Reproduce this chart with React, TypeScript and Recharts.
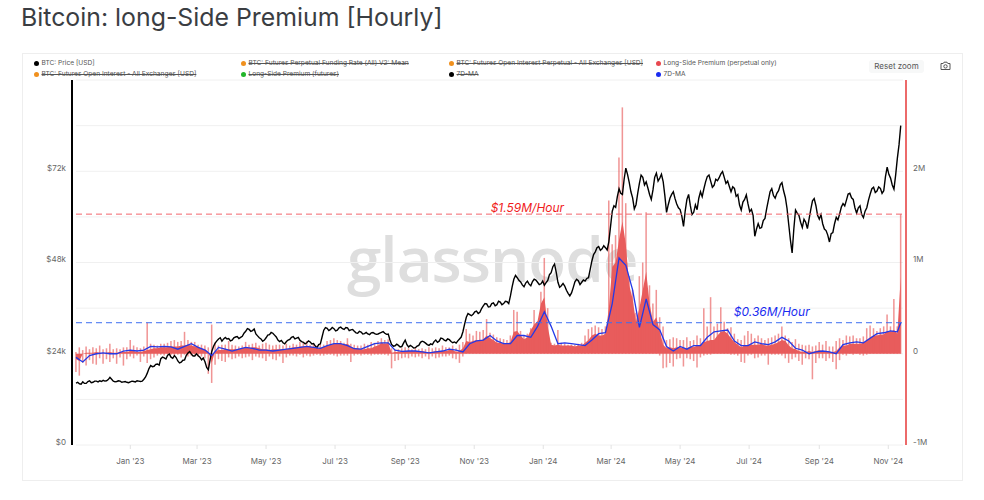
import {
  ComposedChart,
  Bar,
  Area,
  Line,
  XAxis,
  YAxis,
  CartesianGrid,
  ReferenceLine,
  ReferenceDot,
} from 'recharts';

const FONT = 'Inter, "Noto Sans", sans-serif';
const RED = '#e85c5c';
const BLUE = '#2438e6';

// BTC price in $k, one value every 3 days from 14 Nov 2022
const priceValues = [
  16.3, 16.1, 16.6, 16.2, 16.9, 16.5, 16.8, 16.9, 17.0, 16.9,
  17.8, 16.8, 16.7, 16.8, 16.6, 16.5, 16.6, 16.7, 16.9, 16.7,
  17.3, 18.9, 20.9, 20.7, 21.3, 22.7, 22.9, 23.6, 23.1, 23.5,
  22.1, 21.8, 22.4, 24.2, 23.9, 23.4, 23.5, 22.4, 21.9, 19.8,
  24.6, 26.8, 27.9, 27.3, 28.3, 28.0, 27.6, 28.4, 28.0, 28.6,
  29.9, 30.4, 30.1, 29.2, 28.2, 27.3, 28.2, 29.0, 29.4, 28.4,
  27.2, 26.9, 27.2, 27.8, 28.5, 28.1, 27.5, 27.0, 26.9, 27.1,
  26.7, 25.6, 26.6, 30.2, 30.7, 30.4, 30.6, 30.2, 31.0, 30.4,
  30.8, 30.3, 29.9, 29.4, 29.7, 29.3, 29.2, 29.5, 29.3, 29.2,
  29.6, 29.4, 29.2, 26.4, 26.1, 26.2, 25.9, 27.6, 25.8, 25.9,
  25.6, 26.2, 27.3, 26.8, 26.2, 26.4, 27.6, 27.3, 28.0, 27.4,
  27.7, 26.9, 26.8, 27.9, 29.8, 33.6, 34.3, 34.4, 35.2, 34.9,
  36.6, 37.1, 36.4, 37.4, 36.9, 37.6, 37.2, 37.7, 39.2, 43.6,
  44.0, 42.9, 41.6, 43.1, 41.9, 43.6, 42.8, 42.4, 42.0, 43.3,
  45.3, 47.6, 42.8, 41.9, 41.8, 39.9, 40.0, 42.9, 43.2, 42.8,
  43.1, 44.0, 48.4, 50.8, 52.2, 51.6, 51.9, 53.5, 61.5, 62.5,
  67.4, 65.9, 72.8, 69.1, 65.0, 63.2, 68.8, 70.4, 69.2, 65.9,
  67.1, 71.5, 70.2, 69.3, 61.2, 64.9, 66.6, 63.4, 61.9, 57.5,
  64.6, 63.0, 61.2, 61.9, 66.6, 67.4, 70.6, 69.4, 68.3, 69.5,
  71.3, 70.4, 69.4, 66.6, 67.5, 65.9, 61.8, 64.6, 63.4, 62.0,
  54.9, 58.2, 57.2, 59.6, 64.4, 67.4, 64.9, 66.9, 69.0, 65.1,
  58.0, 50.5, 61.8, 60.4, 57.2, 58.6, 59.5, 64.2, 63.0, 59.4,
  58.2, 56.4, 53.4, 55.9, 59.9, 60.8, 63.5, 64.4, 66.2, 64.6,
  61.0, 62.9, 59.8, 62.4, 66.0, 67.8, 66.8, 67.5, 66.9, 73.1,
  70.2, 67.3, 75.4, 84.0,
];

// price halfway between the values above, gives the line its hourly roughness
const priceBetween = [
  16.5, 16.0, 16.2, 16.7, 16.4, 16.8, 16.6, 16.7, 16.8, 17.2,
  17.3, 16.6, 16.9, 16.5, 16.7, 16.4, 16.8, 16.6, 16.8, 16.8,
  17.9, 20.1, 20.6, 21.2, 21.0, 23.1, 22.6, 23.9, 22.8, 23.0,
  21.6, 22.3, 23.6, 24.6, 23.4, 24.0, 23.1, 22.9, 20.4, 22.4,
  25.9, 27.4, 28.2, 27.9, 27.9, 27.4, 28.2, 28.5, 28.3, 29.4,
  30.6, 29.9, 30.5, 28.7, 27.9, 27.6, 28.9, 29.6, 28.9, 27.6,
  27.5, 26.6, 27.6, 28.3, 27.9, 28.3, 27.2, 26.6, 27.4, 26.6,
  26.0, 26.4, 28.4, 30.9, 30.1, 30.9, 30.0, 30.8, 30.6, 30.9,
  30.1, 30.4, 29.5, 29.9, 29.2, 29.6, 29.0, 29.6, 29.1, 29.4,
  29.8, 29.1, 27.6, 26.0, 26.5, 25.8, 26.8, 26.4, 26.2, 25.5,
  26.0, 27.0, 27.1, 26.4, 26.6, 27.2, 27.0, 28.1, 27.6, 27.9,
  27.2, 27.1, 27.4, 28.4, 31.8, 34.6, 34.0, 35.0, 34.6, 35.9,
  37.2, 36.3, 37.2, 36.6, 37.8, 36.9, 37.8, 37.2, 41.6, 44.6,
  43.3, 42.1, 42.6, 42.3, 43.0, 43.4, 42.2, 43.1, 42.7, 44.8,
  46.9, 45.4, 41.5, 42.5, 40.7, 39.2, 41.4, 43.6, 42.2, 43.4,
  43.8, 46.2, 50.1, 51.9, 51.2, 52.4, 51.3, 57.5, 62.9, 65.3,
  66.2, 69.9, 71.2, 66.6, 62.1, 66.2, 71.0, 68.4, 67.6, 64.6,
  70.4, 69.4, 71.2, 65.6, 63.2, 65.9, 64.8, 62.4, 60.2, 61.6,
  65.9, 60.6, 63.2, 64.9, 65.3, 69.2, 71.0, 67.8, 69.9, 70.3,
  71.9, 68.8, 68.0, 67.9, 65.4, 63.1, 63.9, 65.8, 61.4, 60.4,
  56.8, 57.0, 59.0, 62.2, 66.6, 65.6, 66.2, 68.4, 66.8, 62.2,
  53.9, 56.8, 61.0, 58.6, 59.4, 56.9, 62.0, 64.8, 60.4, 60.6,
  56.8, 55.2, 55.6, 58.2, 59.2, 62.6, 62.9, 66.0, 65.0, 62.4,
  62.4, 60.6, 61.5, 64.4, 67.4, 66.4, 67.9, 66.2, 70.6, 71.2,
  68.4, 71.0, 79.0,
];

// hourly premium in $M: highest and lowest hour of each 3 day step
const premiumHigh = [
  0.02, 0.07, 0.04, 0.08, 0.05, 0.07, 0.06, 0.09, 0.05, 0.06,
  0.11, 0.05, 0.06, 0.05, 0.07, 0.07, 0.15, 0.09, 0.07, 0.06,
  0.08, 0.34, 0.11, 0.1, 0.09, 0.11, 0.11, 0.12, 0.14, 0.15,
  0.13, 0.14, 0.24, 0.15, 0.13, 0.13, 0.1, 0.1, 0.09, 0.07,
  0.32, 0.12, 0.09, 0.1, 0.1, 0.14, 0.1, 0.09, 0.08, 0.09,
  0.13, 0.1, 0.11, 0.12, 0.09, 0.11, 0.12, 0.1, 0.09, 0.1,
  0.1, 0.09, 0.11, 0.09, 0.11, 0.1, 0.13, 0.12, 0.14, 0.1,
  0.11, 0.09, 0.11, 0.1, 0.14, 0.15, 0.17, 0.15, 0.14, 0.12,
  0.17, 0.11, 0.1, 0.09, 0.09, 0.11, 0.1, 0.13, 0.12, 0.14,
  0.17, 0.15, 0.16, 0.06, 0.05, 0.05, 0.06, 0.07, 0.06, 0.05,
  0.07, 0.05, 0.06, 0.05, 0.07, 0.06, 0.07, 0.06, 0.09, 0.07,
  0.07, 0.09, 0.06, 0.1, 0.13, 0.27, 0.22, 0.2, 0.25, 0.24,
  0.26, 0.38, 0.23, 0.21, 0.18, 0.17, 0.16, 0.15, 0.2, 0.48,
  0.46, 0.25, 0.2, 0.22, 0.28, 0.48, 0.32, 0.68, 1.05, 0.5,
  0.12, 0.11, 0.26, 0.12, 0.11, 0.1, 0.1, 0.1, 0.11, 0.12,
  0.2, 0.27, 0.29, 0.31, 0.29, 0.27, 0.3, 1.68, 1.2, 1.3,
  2.15, 2.7, 1.65, 0.85, 0.7, 0.45, 0.85, 1.0, 1.55, 0.75,
  0.55, 0.7, 0.4, 0.3, 0.15, 0.16, 0.18, 0.17, 0.15, 0.15,
  0.18, 0.14, 0.15, 0.2, 0.17, 0.5, 0.3, 0.62, 0.3, 0.33,
  0.51, 0.35, 0.28, 0.29, 0.22, 0.16, 0.15, 0.2, 0.25, 0.22,
  0.17, 0.2, 0.17, 0.15, 0.17, 0.18, 0.2, 0.22, 0.3, 0.2,
  0.17, 0.13, 0.16, 0.11, 0.1, 0.09, 0.1, 0.08, 0.09, 0.13,
  0.1, 0.14, 0.08, 0.08, 0.14, 0.17, 0.15, 0.2, 0.19, 0.2,
  0.17, 0.17, 0.19, 0.28, 0.31, 0.28, 0.25, 0.28, 0.3, 0.43,
  0.3, 0.6, 0.3, 1.53,
];

const premiumLow = [
  -0.2, -0.24, -0.1, -0.13, -0.07, -0.11, -0.12, -0.05, -0.11, -0.06,
  -0.09, -0.05, -0.11, -0.04, -0.13, -0.06, -0.03, -0.05, -0.02, -0.09,
  -0.03, -0.1, -0.06, -0.04, -0.02, -0.01, -0.02, 0, -0.01, -0.02,
  -0.01, -0.04, -0.01, -0.03, -0.02, -0.01, -0.03, -0.03, -0.05, -0.22,
  -0.32, -0.12, -0.06, -0.08, -0.09, -0.04, -0.06, -0.05, -0.03, -0.05,
  -0.04, -0.03, -0.07, -0.03, -0.04, -0.05, -0.08, -0.03, -0.06, -0.07,
  -0.03, -0.1, -0.04, -0.02, -0.02, -0.03, -0.01, -0.04, -0.02, -0.03,
  -0.02, -0.01, -0.02, -0.02, -0.01, -0.01, -0.02, -0.03, -0.02, -0.02,
  -0.02, -0.09, -0.02, -0.01, -0.02, -0.01, -0.01, -0.02, -0.01, -0.01,
  -0.01, -0.01, -0.02, -0.16, -0.08, -0.07, -0.05, -0.04, -0.05, -0.03,
  -0.04, -0.03, -0.05, -0.03, -0.06, -0.03, -0.05, -0.04, -0.03, -0.03,
  -0.02, -0.05, -0.06, -0.1, -0.03, 0, 0, 0, 0, 0,
  0, 0, 0, 0, 0, 0, 0, 0, 0, 0,
  0, 0, 0, 0, 0, 0, 0, 0, 0, 0,
  0, 0, 0, 0, 0, 0, 0, 0, 0, 0,
  0, 0, 0, 0, 0, 0, 0, 0, 0, 0,
  0, 0, 0, 0, 0, 0, 0, 0, 0, 0,
  0, 0, -0.02, -0.16, -0.15, -0.1, -0.14, -0.06, -0.05, -0.14,
  -0.05, -0.06, -0.08, -0.15, -0.04, -0.02, -0.01, -0.01, 0, 0,
  0, 0, 0, -0.01, -0.01, -0.02, -0.09, -0.1, -0.02, -0.01,
  -0.05, -0.04, -0.02, -0.02, -0.12, -0.01, -0.01, -0.01, -0.02, -0.05,
  -0.1, -0.06, -0.04, -0.08, -0.12, -0.05, -0.06, -0.28, -0.1, -0.05,
  -0.05, -0.08, -0.05, -0.09, -0.17, -0.07, -0.01, -0.02, 0, -0.01,
  0, -0.01, -0.02, -0.01, 0, 0, 0, 0, 0, 0,
  0, 0, 0, 0,
];

// level the dense hourly bars reach, this is the solid part of the red block
const premiumCore = [
  -0.06, -0.08, 0, 0.01, 0.01, 0.01, 0.02, 0.01, 0, 0.01,
  0.02, 0.01, 0.01, 0.02, 0.02, 0.02, 0.03, 0.03, 0.02, 0.02,
  0.03, 0.04, 0.05, 0.06, 0.06, 0.07, 0.07, 0.07, 0.08, 0.08,
  0.08, 0.09, 0.09, 0.1, 0.09, 0.08, 0.07, 0.06, 0.05, 0.02,
  -0.1, 0.03, 0.04, 0.04, 0.05, 0.05, 0.05, 0.05, 0.05, 0.06,
  0.07, 0.06, 0.07, 0.07, 0.06, 0.05, 0.05, 0.04, 0.05, 0.05,
  0.05, 0.05, 0.05, 0.06, 0.07, 0.07, 0.08, 0.08, 0.08, 0.08,
  0.07, 0.06, 0.06, 0.07, 0.09, 0.1, 0.11, 0.11, 0.11, 0.1,
  0.11, 0.08, 0.06, 0.06, 0.05, 0.05, 0.06, 0.06, 0.08, 0.09,
  0.12, 0.11, 0.12, 0.01, 0.02, 0.02, 0.03, 0.03, 0.03, 0.03,
  0.03, 0.03, 0.03, 0.02, 0.02, 0.02, 0.03, 0.03, 0.03, 0.03,
  0.04, 0.04, 0.02, 0.03, 0.06, 0.14, 0.13, 0.14, 0.15, 0.14,
  0.16, 0.2, 0.17, 0.15, 0.12, 0.12, 0.11, 0.11, 0.13, 0.24,
  0.25, 0.2, 0.16, 0.18, 0.26, 0.32, 0.36, 0.55, 0.62, 0.3,
  0.1, 0.09, 0.1, 0.09, 0.09, 0.09, 0.09, 0.08, 0.09, 0.09,
  0.12, 0.15, 0.2, 0.22, 0.2, 0.2, 0.22, 0.5, 0.95, 1.0,
  1.25, 1.45, 1.2, 0.75, 0.6, 0.35, 0.5, 0.7, 0.9, 0.55,
  0.35, 0.4, 0.25, 0.1, 0.06, 0.07, 0.06, 0.07, 0.07, 0.06,
  0.06, 0.08, 0.07, 0.09, 0.09, 0.13, 0.14, 0.15, 0.15, 0.2,
  0.24, 0.25, 0.22, 0.17, 0.13, 0.1, 0.07, 0.09, 0.1, 0.1,
  0.1, 0.1, 0.11, 0.09, 0.09, 0.1, 0.11, 0.13, 0.15, 0.14,
  0.09, 0.06, 0.05, 0.03, 0.02, 0.02, 0.03, 0.02, 0.03, 0.04,
  0.03, 0.03, 0.02, 0.02, 0.03, 0.07, 0.09, 0.09, 0.11, 0.11,
  0.11, 0.11, 0.12, 0.15, 0.18, 0.2, 0.2, 0.21, 0.21, 0.25,
  0.24, 0.26, 0.22, 0.84,
];

// 7D-MA of the premium in $M, one value every 6 days
const maValues = [
  -0.04, -0.09, -0.02, 0, 0.01, 0, 0, 0.03, 0.04, 0.03,
  0.04, 0.08, 0.075, 0.08, 0.075, 0.05, 0.08, 0.11, 0.07, 0.04,
  -0.02, 0.07, 0.05, 0.03, 0.05, 0.07, 0.06, 0.04, 0.04, 0.03,
  0.04, 0.05, 0.06, 0.07, 0.08, 0.07, 0.06, 0.09, 0.11, 0.11,
  0.09, 0.055, 0.05, 0.08, 0.11, 0.12, 0.12, 0.04, 0.025, 0.03,
  0.03, 0.02, 0.01, 0.02, 0.03, 0.05, 0.04, 0.02, 0.11, 0.14,
  0.15, 0.2, 0.14, 0.11, 0.11, 0.2, 0.2, 0.18, 0.3, 0.46,
  0.3, 0.11, 0.12, 0.11, 0.1, 0.09, 0.15, 0.22, 0.23, 0.55,
  1.05, 0.97, 0.7, 0.29, 0.6, 0.32, 0.26, 0.08, 0.03, 0.08,
  0.05, 0.09, 0.09, 0.18, 0.24, 0.25, 0.26, 0.14, 0.09, 0.09,
  0.13, 0.11, 0.1, 0.13, 0.18, 0.14, 0.06, 0.04, 0, 0.02,
  0.03, 0.02, 0, 0.1, 0.12, 0.13, 0.12, 0.17, 0.22, 0.23,
  0.25, 0.24, 0.34,
];

const tickDays = [48, 107, 168, 229, 291, 352, 413, 473, 534, 595, 657, 718];
const tickLabels = ["Jan '23", "Mar '23", "May '23", "Jul '23", "Sep '23", "Nov '23", "Jan '24", "Mar '24", "May '24", "Jul '24", "Sep '24", "Nov '24"];
const priceTicks = [0, 12, 24, 36, 48, 60, 72, 84, 96];
const priceLabels = [24, 48, 72];
const premiumTicks = [-1, -0.5, 0, 0.5, 1, 1.5, 2, 2.5, 3];
const premiumLabels = [-1, 0, 1, 2];

const legendItems = [
  { name: 'BTC: Price [USD]', color: '#000', off: false, left: 34, top: 58 },
  { name: 'BTC: Futures Perpetual Funding Rate (All) V2: Mean', color: '#f0901e', off: true, left: 241, top: 58 },
  { name: 'BTC: Futures Open Interest Perpetual - All Exchanges [USD]', color: '#f0901e', off: true, left: 449, top: 58 },
  { name: 'Long-Side Premium (perpetual only)', color: '#e8484f', off: false, left: 656, top: 58 },
  { name: 'BTC: Futures Open Interest - All Exchanges [USD]', color: '#f0901e', off: true, left: 34, top: 69 },
  { name: 'Long-Side Premium (futures)', color: '#22b52a', off: true, left: 241, top: 69 },
  { name: '7D-MA', color: '#000', off: true, left: 449, top: 69 },
  { name: '7D-MA', color: '#1a2cf0', off: false, left: 656, top: 69 },
];

const table = premiumHigh.map((high, i) => ({
  day: i * 3,
  range: [premiumLow[i], high],
  core: premiumCore[i],
}));

const priceTable = priceValues.flatMap((price, i) =>
  i < priceBetween.length
    ? [{ day: i * 3, price }, { day: i * 3 + 1.5, price: priceBetween[i] }]
    : [{ day: i * 3, price }],
);

const maTable = maValues.map((ma, i) => ({ day: Math.min(i * 6, 729), ma }));

const axisText = { fontSize: 8, fill: '#666', fontFamily: FONT };

export default function App() {
  return (
    <div style={{ position: 'absolute', left: 0, top: 0, width: 984, height: 500, background: '#fff', fontFamily: FONT, overflow: 'hidden' }}>
      <div style={{ position: 'absolute', left: 21, top: 2, fontSize: 24.85, color: '#3a3d42', whiteSpace: 'nowrap' }}>
        Bitcoin: long-Side Premium [Hourly]
      </div>

      {/* Panel */}
      <div style={{ position: 'absolute', left: 22, top: 53, width: 941, height: 428, border: '1px solid #eeeeee', boxSizing: 'border-box' }} />

      {/* Watermark sits under the chart */}
      <div style={{ position: 'absolute', left: 347, top: 216, fontSize: 62, color: '#dedede', fontFamily: '"Open Sans", sans-serif', fontWeight: 600, whiteSpace: 'nowrap', letterSpacing: -1 }}>
        glassnode
      </div>

      <div style={{ position: 'absolute', left: 0, top: 0 }}>
        <ComposedChart width={984} height={500} data={table} margin={{ top: 80, right: 0, bottom: 0, left: 0 }}>
          <CartesianGrid vertical={false} stroke="#f0f0f0" x={76} width={827} yAxisId="price" />
          <XAxis
            dataKey="day"
            type="number"
            domain={[0, 731]}
            padding={{ left: 4, right: 3 }}
            ticks={tickDays}
            interval={0}
            height={55}
            axisLine={false}
            tickSize={4}
            tickMargin={9}
            tickLine={{ stroke: '#e2e2e2' }}
            tick={axisText}
            tickFormatter={(d: number) => tickLabels[tickDays.indexOf(d)]}
          />
          <YAxis
            yAxisId="price"
            orientation="left"
            width={72}
            domain={[0, 96]}
            ticks={priceTicks}
            interval={0}
            axisLine={{ stroke: '#000', strokeWidth: 2 }}
            tickLine={false}
            tickMargin={0}
            tick={{ ...axisText, dy: -3 }}
            tickFormatter={(v: number) => (v === 0 ? '$0' : priceLabels.includes(v) ? `$${v}k` : '')}
          />
          <YAxis
            yAxisId="premium"
            orientation="right"
            width={78}
            domain={[-1, 3]}
            ticks={premiumTicks}
            interval={0}
            axisLine={{ stroke: '#ec6a6a', strokeWidth: 2 }}
            tickLine={false}
            tickMargin={1}
            tick={{ ...axisText, dy: -3 }}
            tickFormatter={(v: number) => (premiumLabels.includes(v) ? (v === 0 ? '0' : `${v}M`) : '')}
          />

          <Bar yAxisId="premium" dataKey="range" barSize={2.6} fill={RED} fillOpacity={0.65} isAnimationActive={false} />
          <Area yAxisId="premium" dataKey="core" type="linear" stroke="none" fill={RED} fillOpacity={1} isAnimationActive={false} />
          <Line yAxisId="price" data={priceTable} dataKey="price" type="linear" stroke="#000" strokeWidth={1.4} dot={false} isAnimationActive={false} />
          <Line yAxisId="premium" data={maTable} dataKey="ma" type="linear" stroke={BLUE} strokeWidth={1.3} dot={false} isAnimationActive={false} />

          <ReferenceLine yAxisId="premium" segment={[{ x: 0, y: 1.53 }, { x: 731, y: 1.53 }]} stroke="#f2646c" strokeDasharray="6 4" />
          <ReferenceLine yAxisId="premium" segment={[{ x: 0, y: 0.34 }, { x: 731, y: 0.34 }]} stroke="#3d6df0" strokeDasharray="6 4" />
          <ReferenceDot
            yAxisId="premium"
            x={399}
            y={1.5}
            r={0}
            stroke="none"
            label={{ value: '$1.59M/Hour', position: 'top', fill: '#f01c1c', fontSize: 12, fontStyle: 'italic', fontFamily: FONT }}
          />
          <ReferenceDot
            yAxisId="premium"
            x={615}
            y={0.36}
            r={0}
            stroke="none"
            label={{ value: '$0.36M/Hour', position: 'top', fill: '#1a2cf0', fontSize: 12, fontStyle: 'italic', fontFamily: FONT }}
          />
        </ComposedChart>
      </div>

      {/* Legend */}
      {legendItems.map((item) => (
        <div
          key={item.name + item.left}
          style={{ position: 'absolute', left: item.left, top: item.top, height: 10, lineHeight: '10px', fontSize: 6.6, color: '#555', whiteSpace: 'nowrap', display: 'flex', alignItems: 'center' }}
        >
          <span style={{ width: 5, height: 5, borderRadius: 3, background: item.color, marginRight: 2.5 }} />
          <span style={{ textDecoration: item.off ? 'line-through' : 'none' }}>{item.name}</span>
        </div>
      ))}

      {/* Toolbar */}
      <div style={{ position: 'absolute', left: 869, top: 60, width: 55, height: 13, lineHeight: '13px', background: '#f7f8f8', borderRadius: 3, fontSize: 8, color: '#555', textAlign: 'center' }}>
        Reset zoom
      </div>
      <svg style={{ position: 'absolute', left: 940, top: 61 }} width={11} height={10} viewBox="0 0 11 10">
        <path d="M1 2.5h2.2l.8-1.3h3l.8 1.3H10v6H1z" fill="none" stroke="#555" strokeWidth={1} />
        <circle cx={5.5} cy={5.4} r={1.7} fill="none" stroke="#555" strokeWidth={1} />
      </svg>
    </div>
  );
}
